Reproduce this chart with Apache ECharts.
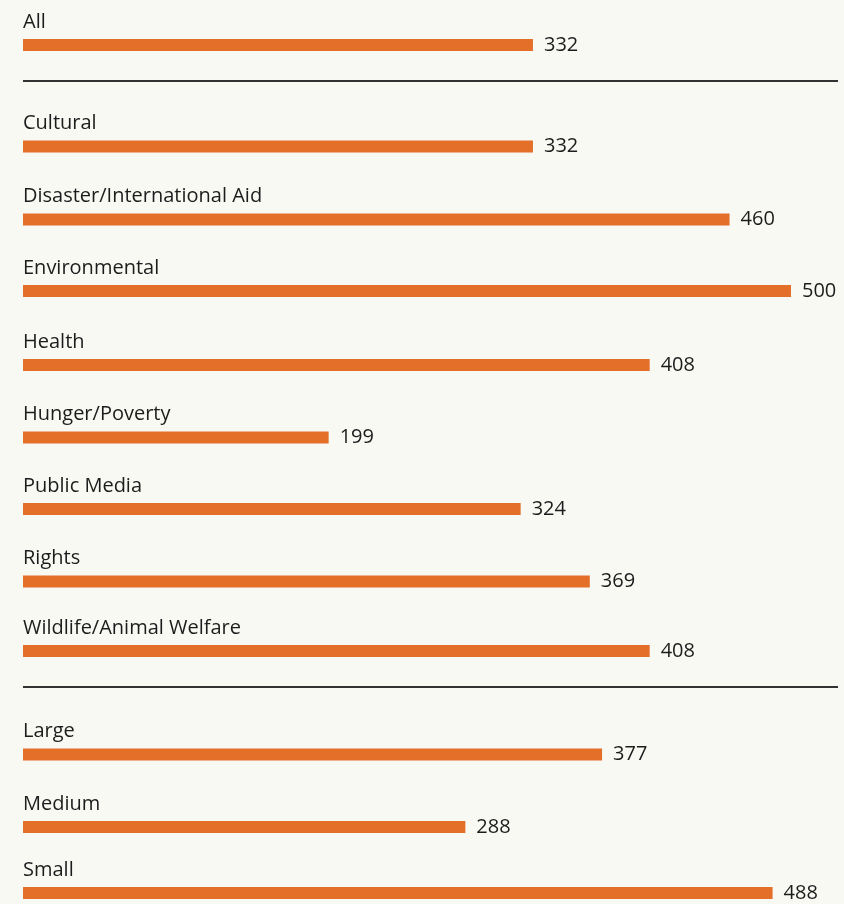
<!DOCTYPE html>
<html>
<head>
<meta charset="utf-8">
<script src="https://cdn.jsdelivr.net/npm/echarts@6/dist/echarts.min.js"></script>
<style>
html,body{margin:0;padding:0;background:#f9f9f4;}
#chart{width:844px;height:904px;}
</style>
</head>
<body>
<div id="chart"></div>
<script>
// Data
const categories = ["All","Cultural","Disaster/International Aid","Environmental","Health","Hunger/Poverty","Public Media","Rights","Wildlife/Animal Welfare","Large","Medium","Small"];
const values = [332,332,460,500,408,199,324,369,408,377,288,488];

// Layout (pixel centres of each row, separator rows)
const rowCenters = [45,146.5,219.5,291,365,437.5,509,581.5,651,754.5,827,893];
const separatorYs = [81,687];
const barH = 12;
const FONT = '"Open Sans"';

const chart = echarts.init(document.getElementById('chart'));
const grids = [], xAxes = [], yAxes = [], series = [];
categories.forEach((c, i) => {
  grids.push({left: 23, width: 768, top: rowCenters[i] - barH / 2, height: barH});
  xAxes.push({type: 'value', gridIndex: i, min: 0, max: 500, show: false});
  yAxes.push({
    type: 'category', gridIndex: i, data: [c],
    axisLine: {show: false}, axisTick: {show: false}, axisLabel: {show: false},
    name: c, nameLocation: 'end', nameGap: 7,
    nameTextStyle: {align: 'left', verticalAlign: 'bottom', fontFamily: FONT, fontSize: 20, color: '#1c1c1c', padding: 0}
  });
  series.push({
    type: 'bar', xAxisIndex: i, yAxisIndex: i, data: [values[i]],
    barWidth: barH, itemStyle: {color: '#e36f29'},
    label: {show: true, position: 'right', distance: 11, formatter: '{c}', fontFamily: FONT, fontSize: 20, color: '#1c1c1c'},
    silent: true, animation: false
  });
});

const graphic = separatorYs.map(y => ({
  type: 'line', shape: {x1: 23, y1: y, x2: 838, y2: y},
  style: {stroke: '#333333', lineWidth: 2}
}));

chart.setOption({
  backgroundColor: '#f9f9f4',
  animation: false,
  grid: grids, xAxis: xAxes, yAxis: yAxes, series: series, graphic: graphic
});
</script>
</body>
</html>
